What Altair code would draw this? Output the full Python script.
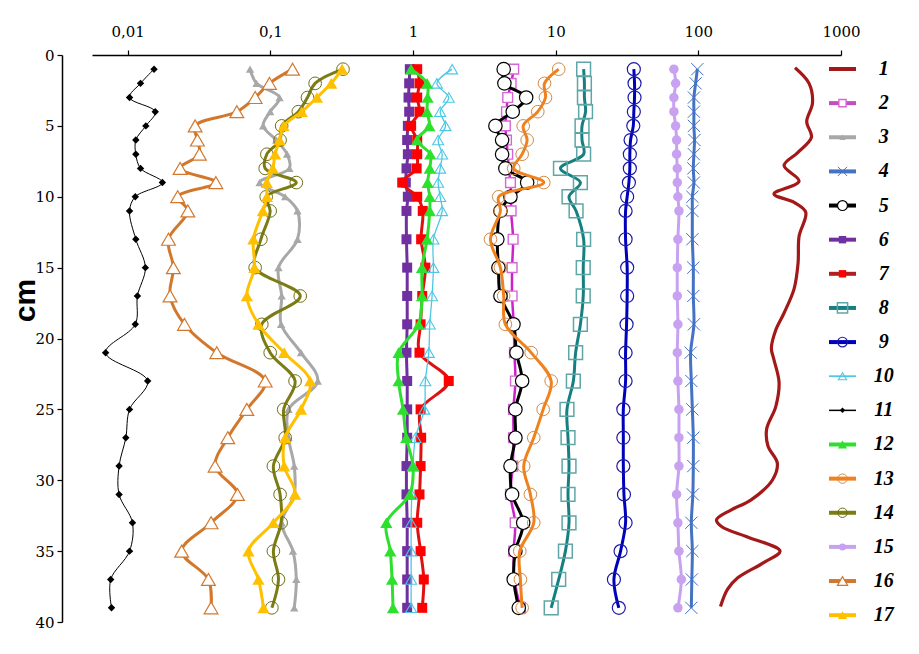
import altair as alt
import pandas as pd

# ---------------- data ----------------
DEPTH = [1, 2, 3, 4, 5, 6, 7, 8, 9, 10, 11, 13, 15, 17, 19, 21, 23, 25, 27, 29, 31, 33, 35, 37, 39]

S1_DEPTH = [0.9, 2.0, 3.4, 4.7, 5.8, 6.9, 7.8, 8.9, 9.8, 10.4, 11.1, 12.8, 14.7, 16.5, 18.2, 19.4,
            20.7, 21.5, 23.1, 24.8, 26.4, 27.6, 28.8, 30.0, 31.4, 32.1, 32.8, 33.3, 34.0, 35.0,
            35.8, 36.9, 37.7, 38.9]
S1 = [476, 597, 631, 575, 621, 495, 399, 508, 339, 469, 566, 508, 500, 469, 399, 349,
      325, 339, 368, 349, 301, 308, 358, 330, 233, 169, 134, 147, 221, 374,
      289, 188, 160, 143]
S2 = [5.08, 4.87, 4.61, 4.52, 4.44, 4.52, 4.61, 4.69, 4.82, 4.87, 4.87, 5.03, 4.95, 4.95, 5.08,
      5.14, 5.22, 5.06, 5.06, 5.0, 4.82, 5.2, 5.08, 5.14, 5.66]
S3 = [0.072, 0.080, 0.116, 0.0997, 0.089, 0.110, 0.131, 0.136, 0.084, 0.127, 0.155, 0.155, 0.114,
      0.120, 0.119, 0.164, 0.215, 0.134, 0.134, 0.147, 0.147, 0.120, 0.144, 0.152, 0.147]
S4 = [98.4, 95.7, 93.1, 93.1, 93.1, 94.0, 93.1, 92.2, 93.1, 90.8, 90.8, 90.8, 92.2, 92.2, 93.1,
      88.3, 89.3, 90.8, 92.2, 92.2, 91.5, 89.3, 90.8, 90.0, 89.3]
S5 = [4.32, 4.37, 6.21, 5.0, 3.78, 4.21, 4.21, 4.44, 6.31, 4.82, 4.10, 3.9, 3.97, 4.1, 5.06,
      5.31, 5.82, 5.22, 5.22, 4.82, 4.95, 5.92, 5.22, 5.08, 5.51]
S6 = [0.95, 0.94, 0.93, 0.94, 0.92, 0.91, 0.92, 0.90, 0.89, 0.92, 0.90, 0.90, 0.91, 0.91, 0.91,
      0.90, 0.91, 0.91, 0.91, 0.90, 0.90, 0.91, 0.91, 0.91, 0.91]
S7 = [1.07, 1.11, 1.07, 1.11, 0.97, 1.07, 1.07, 1.06, 0.84, 1.07, 1.17, 1.14, 1.22, 1.16, 1.13,
      1.11, 1.78, 1.13, 1.14, 1.13, 1.11, 1.07, 1.13, 1.19, 1.16]
S8 = [15.7, 15.9, 15.9, 16.2, 15.3, 15.3, 15.7, 10.8, 14.9, 12.4, 13.9, 15.7, 15.6, 15.6, 14.9,
      13.8, 13.3, 12.0, 12.2, 12.4, 12.2, 12.4, 11.7, 10.5, 9.3]
S9 = [35.3, 35.7, 35.7, 35.3, 35.0, 33.5, 33.1, 33.1, 32.6, 31.7, 30.9, 30.9, 31.7, 31.7, 31.4,
      30.9, 30.9, 29.8, 29.8, 29.8, 30.1, 30.9, 28.5, 25.6, 27.7]
S10 = [1.88, 1.47, 1.78, 1.55, 1.69, 1.50, 1.60, 1.55, 1.50, 1.55, 1.60, 1.39, 1.39, 1.36, 1.31,
       1.29, 1.22, 1.20, 1.04, 1.0, 0.98, 0.97, 0.97, 0.97, 0.97]
S11 = [0.0153, 0.0123, 0.0103, 0.0156, 0.0134, 0.0114, 0.0114, 0.0123, 0.0175, 0.0113, 0.0103,
       0.0114, 0.0133, 0.0117, 0.0113, 0.0070, 0.0138, 0.0103, 0.0097, 0.0087, 0.0087, 0.0108,
       0.0103, 0.0076, 0.0077]
S12 = [0.968, 1.254, 1.266, 1.254, 1.30, 1.067, 1.32, 1.31, 1.266, 1.31, 1.31, 1.254, 1.156, 1.156,
       1.095, 0.792, 0.792, 0.851, 0.897, 1.0, 0.947, 0.65, 0.693, 0.713, 0.724]
S13 = [10.5, 8.35, 8.48, 7.49, 5.92, 6.31, 5.82, 5.08, 8.25, 3.99, 4.10, 3.49, 4.10, 4.32, 4.44,
       6.73, 9.3, 8.17, 7.02, 5.97, 6.65, 7.02, 5.60, 5.66, 5.82]
S14 = [0.323, 0.206, 0.182, 0.157, 0.120, 0.117, 0.0945, 0.092, 0.152, 0.0935, 0.0997, 0.0858,
       0.0782, 0.162, 0.0871, 0.0997, 0.149, 0.124, 0.127, 0.105, 0.117, 0.119, 0.105, 0.114, 0.1025]
S15 = [67.4, 69.3, 67.4, 67.4, 69.3, 70.4, 70.4, 71.2, 71.2, 71.9, 73.1, 71.9, 71.2, 71.2, 71.9,
       71.2, 71.9, 73.1, 73.1, 73.1, 70.4, 71.9, 73.1, 76.0, 71.9]
S16 = [0.143, 0.0986, 0.0782, 0.0582, 0.0297, 0.0308, 0.0318, 0.0233, 0.0415, 0.0224, 0.0264,
       0.0193, 0.0209, 0.0198, 0.0250, 0.0421, 0.092, 0.0684, 0.0503, 0.0410, 0.0588, 0.0384,
       0.0239, 0.0368, 0.0384]
S17 = [0.318, 0.267, 0.212, 0.166, 0.124, 0.116, 0.108, 0.104, 0.0945, 0.0945, 0.0886, 0.076,
       0.0773, 0.0684, 0.0825, 0.125, 0.190, 0.164, 0.127, 0.125, 0.149, 0.105, 0.0702, 0.0825, 0.0895]

SERIES_NAMES = [str(i) for i in range(1, 18)]
SERIES_DATA = {
    "1": (S1_DEPTH, S1), "2": (DEPTH, S2), "3": (DEPTH, S3), "4": (DEPTH, S4), "5": (DEPTH, S5),
    "6": (DEPTH, S6), "7": (DEPTH, S7), "8": (DEPTH, S8), "9": (DEPTH, S9), "10": (DEPTH, S10),
    "11": (DEPTH, S11), "12": (DEPTH, S12), "13": (DEPTH, S13), "14": (DEPTH, S14),
    "15": (DEPTH, S15), "16": (DEPTH, S16), "17": (DEPTH, S17),
}
X_TICKS = [0.01, 0.1, 1, 10, 100, 1000]
Y_TICKS = [0, 5, 10, 15, 20, 25, 30, 35, 40]

rows = []
for name in SERIES_NAMES:
    d, v = SERIES_DATA[name]
    for dd, vv in zip(d, v):
        rows.append({"series": name, "depth": dd, "value": vv})
df = pd.DataFrame(rows)
ldf = pd.DataFrame({"series": SERIES_NAMES, "row": list(range(1, 18))})

# ---------------- styles ----------------
XMARK = "M-1,-1L1,1M-1,1L1,-1"
STYLE = {
    "1":  dict(line="#A31818", lw=3.2),
    "2":  dict(line="#CC22CC", lw=2.5, shape="square", size=95, fill="white", stroke="#D865D8", sw=1.4),
    "3":  dict(line="#A8A8A8", lw=3, shape="triangle-up", size=70, fill="#A8A8A8", stroke="#A8A8A8", sw=0),
    "4":  dict(line="#4472C4", lw=3, shape=XMARK, size=150, fill="transparent", stroke="#4472C4", sw=1),
    "5":  dict(line="#000000", lw=3, shape="circle", size=180, fill="white", stroke="#000000", sw=1.2),
    "6":  dict(line="#7030A0", lw=3, shape="square", size=100, fill="#7030A0", stroke="#7030A0", sw=0),
    "7":  dict(line="#E01010", lw=3, shape="square", size=100, fill="#FF0000", stroke="#FF0000", sw=0),
    "8":  dict(line="#168080", lw=3, shape="square", size=190, fill="transparent", stroke="#5FA6A6", sw=1.5),
    "9":  dict(line="#0000BB", lw=3, shape="circle", size=170, fill="transparent", stroke="#1A1AA8", sw=1.2),
    "10": dict(line="#4CC8E6", lw=1.3, shape="triangle-up", size=120, fill="transparent", stroke="#4CC8E6", sw=1.1),
    "11": dict(line="#000000", lw=1, shape="diamond", size=55, fill="#000000", stroke="#000000", sw=0),
    "12": dict(line="#2EE02E", lw=3, shape="triangle-up", size=150, fill="#2EE02E", stroke="#2EE02E", sw=0),
    "13": dict(line="#F0821E", lw=3, shape="circle", size=160, fill="transparent", stroke="#D08A48", sw=1),
    "14": dict(line="#7C7C14", lw=3, shape="circle", size=160, fill="transparent", stroke="#6E6E14", sw=1),
    "15": dict(line="#C8A2F0", lw=3, shape="circle", size=90, fill="#C8A2F0", stroke="#C8A2F0", sw=0),
    "16": dict(line="#D2782D", lw=3, shape="triangle-up", size=190, fill="white", stroke="#D2782D", sw=1.2),
    "17": dict(line="#FFC000", lw=3, shape="triangle-up", size=150, fill="#FFC000", stroke="#FFC000", sw=0),
}
LEGEND_LINE = {"7": "#B02020", "2": "#C050C0"}

XMIN = 0.00562
X = alt.X(
    "value:Q",
    scale=alt.Scale(type="log", domain=[XMIN, 1000], nice=False),
    axis=alt.Axis(orient="top", values=X_TICKS, labelExpr="replace(toString(datum.value), '.', ',')",
                  tickSize=5, labelPadding=11, labelFlush=False, title=None, grid=False),
)
Y = alt.Y(
    "depth:Q",
    scale=alt.Scale(domain=[0, 40], reverse=True, nice=False),
    axis=alt.Axis(values=Y_TICKS, offset=30, tickSize=5, labelPadding=3, labelFlush=False, grid=False,
                  title="cm", titleFont="Liberation Sans", titleFontSize=30, titleFontWeight="bold",
                  titlePadding=-6, titleY=245, titleColor="black"),
)

main_layers = []
for name in SERIES_NAMES:
    st = STYLE[name]
    base = alt.Chart().transform_filter(alt.datum.series == name)
    main_layers.append(
        base.mark_line(interpolate="catmull-rom", color=st["line"], strokeWidth=st["lw"])
        .encode(x=X, y=Y, order=alt.Order("depth:Q"))
    )
    if "shape" in st:
        main_layers.append(
            base.mark_point(shape=st["shape"], size=st["size"], fill=st["fill"], stroke=st["stroke"],
                            strokeWidth=st["sw"], opacity=1, fillOpacity=1)
            .encode(x=X, y=Y)
        )
main = alt.layer(*main_layers, data=df)

# ---------------- legend (own scales) ----------------
LX = alt.Scale(domain=[0, 1])
LY = alt.Scale(domain=[0.59, 17.2], reverse=True)
leg_layers = []
for name in SERIES_NAMES:
    st = STYLE[name]
    base = alt.Chart().transform_filter(alt.datum.series == name)
    lw = 4 if st["lw"] >= 2.5 else st["lw"] + 0.5
    leg_layers.append(
        base.mark_rule(color=LEGEND_LINE.get(name, st["line"]), strokeWidth=lw).encode(
            x=alt.XDatum(0.984, type="quantitative", scale=LX, axis=None),
            x2=alt.X2Datum(1.020),
            y=alt.Y("row:Q", scale=LY, axis=None),
        )
    )
    if "shape" in st:
        leg_layers.append(
            base.mark_point(shape=st["shape"], size=st["size"] * 0.55, fill=st["fill"], stroke=st["stroke"],
                            strokeWidth=st["sw"], opacity=1, fillOpacity=1).encode(
                x=alt.XDatum(1.002, type="quantitative", scale=LX, axis=None),
                y=alt.Y("row:Q", scale=LY, axis=None),
            )
        )
leg_layers.append(
    alt.Chart().mark_text(font="Liberation Serif", fontSize=20, fontStyle="italic", fontWeight="bold",
                          align="center", baseline="middle", color="black").encode(
        x=alt.XDatum(1.057, type="quantitative", scale=LX, axis=None),
        y=alt.Y("row:Q", scale=LY, axis=None),
        text="series:N",
    )
)
legend = alt.layer(*leg_layers, data=ldf)

chart = (
    alt.layer(main, legend)
    .resolve_scale(x="independent", y="independent")
    .properties(width=749, height=567, autosize=alt.AutoSizeParams(type="none"),
                padding={"left": 84, "top": 47, "right": 70, "bottom": 20})
    .configure_view(stroke=None)
    .configure_axis(domainColor="black", tickColor="black", labelColor="black", domainWidth=1.5,
                    tickWidth=1.2, labelFont="DejaVu Serif", labelFontSize=15)
)

chart.save("out.html", embed_options={"renderer": "svg", "actions": False})
